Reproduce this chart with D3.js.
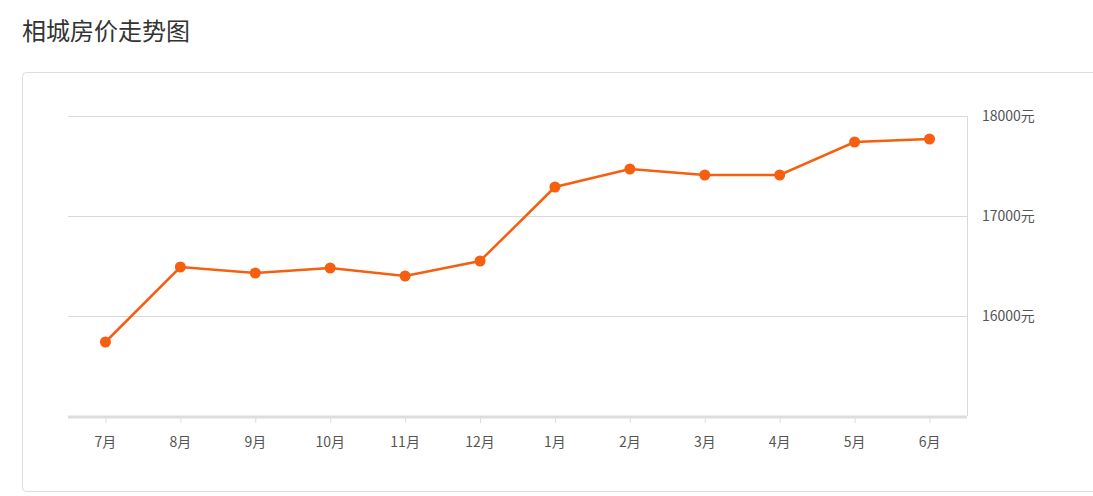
<!DOCTYPE html>
<html><head><meta charset="utf-8">
<script src="https://cdn.jsdelivr.net/npm/d3@7"></script>
<style>
body{margin:0;background:#fff;font-family:"Noto Sans CJK SC","Noto Sans",sans-serif;}
</style></head>
<body><svg></svg>
<script>
var months = ["7月","8月","9月","10月","11月","12月","1月","2月","3月","4月","5月","6月"];
var prices = [15740,16490,16430,16480,16400,16550,17290,17470,17410,17410,17740,17770];
var yTicks = [16000,17000,18000];

var width = 1093, height = 496;
var svg = d3.select("svg").attr("width", width).attr("height", height);

svg.append("text").attr("x", 22).attr("y", 40)
    .attr("font-size", 24).attr("fill", "#333").text("相城房价走势图");

svg.append("rect").attr("x", 22.5).attr("y", 72.5)
    .attr("width", 1100).attr("height", 419).attr("rx", 4)
    .attr("fill", "none").attr("stroke", "#ddd");

var plotLeft = 68, plotRight = 967, plotTop = 116, plotBottom = 416;

var x = d3.scaleBand().domain(months).range([plotLeft, plotRight]);
var y = d3.scaleLinear().domain([15000, 18000]).range([plotBottom, plotTop]);

// grid
svg.selectAll(".grid").data(yTicks).enter().append("line")
    .attr("x1", plotLeft).attr("x2", plotRight)
    .attr("y1", d => y(d) + 0.5).attr("y2", d => y(d) + 0.5)
    .attr("stroke", "#d9d9d9");

// right axis line
svg.append("line").attr("x1", plotRight + 0.5).attr("x2", plotRight + 0.5)
    .attr("y1", plotTop).attr("y2", plotBottom).attr("stroke", "#d9d9d9");

svg.selectAll(".ylab").data(yTicks).enter().append("text")
    .attr("x", 982).attr("y", d => y(d) + 5)
    .attr("font-size", 14).attr("fill", "#555").text(d => d + "元");

// bottom axis
svg.append("line").attr("x1", plotLeft).attr("x2", plotRight)
    .attr("y1", plotBottom + 1).attr("y2", plotBottom + 1)
    .attr("stroke", "#ddd").attr("stroke-width", 3);

svg.selectAll(".xtick").data(months).enter().append("line")
    .attr("x1", d => x(d) + x.bandwidth() / 2 + 0.5)
    .attr("x2", d => x(d) + x.bandwidth() / 2 + 0.5)
    .attr("y1", plotBottom + 2).attr("y2", plotBottom + 7)
    .attr("stroke", "#ddd");

svg.selectAll(".xlab").data(months).enter().append("text")
    .attr("x", d => x(d) + x.bandwidth() / 2).attr("y", 447)
    .attr("text-anchor", "middle")
    .attr("font-size", 14).attr("fill", "#555").text(d => d);

var line = d3.line()
    .x((d, i) => x(months[i]) + x.bandwidth() / 2)
    .y(d => y(d));

svg.append("path").datum(prices).attr("d", line)
    .attr("fill", "none").attr("stroke", "#f55f0f").attr("stroke-width", 2.5);

svg.selectAll(".pt").data(prices).enter().append("circle")
    .attr("cx", (d, i) => x(months[i]) + x.bandwidth() / 2)
    .attr("cy", d => y(d)).attr("r", 5.5)
    .attr("fill", "#f55f0f");
</script></body></html>
